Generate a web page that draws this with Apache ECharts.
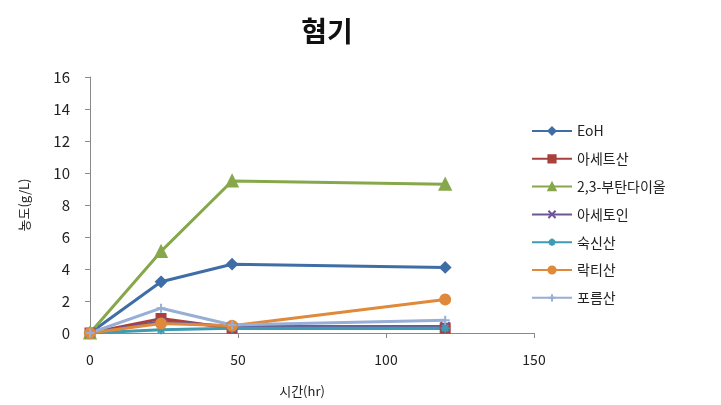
<!DOCTYPE html>
<html>
<head>
<meta charset="utf-8">
<script src="https://cdn.jsdelivr.net/npm/echarts@6/dist/echarts.min.js"></script>
<style>
  html, body { margin: 0; padding: 0; background: #fff; }
  #chart { width: 721px; height: 405px; }
</style>
</head>
<body>
<div id="chart"></div>
<script>
// Sampling times (hr)
const hours = [0, 24, 48, 120];

// Concentrations (g/L) per compound
const eoh = [0, 3.2, 4.3, 4.1];
const aceticAcid = [0, 0.9, 0.3, 0.3];
const butanediol = [0, 5.1, 9.5, 9.3];
const acetoin = [0, 0.7, 0.4, 0.4];
const succinicAcid = [0, 0.2, 0.3, 0.3];
const lacticAcid = [0, 0.6, 0.45, 2.1];
const formicAcid = [0, 1.55, 0.5, 0.8];

const seriesNames = ['EoH', '아세트산', '2,3-부탄다이올', '아세토인', '숙신산', '락티산', '포름산'];
const yTicks = [0, 2, 4, 6, 8, 10, 12, 14, 16];
const xTicks = [0, 50, 100, 150];

const font = '"Noto Sans CJK KR", "Noto Sans", sans-serif';

function pairs(values) {
  return hours.map((h, i) => [h, values[i]]);
}

const defs = [
  { name: seriesNames[0], data: eoh, color: '#3F6EA6', symbol: 'diamond', size: 10 },
  { name: seriesNames[1], data: aceticAcid, color: '#A9403D', symbol: 'rect', size: 9 },
  { name: seriesNames[2], data: butanediol, color: '#86A84B', symbol: 'triangle', size: 11 },
  { name: seriesNames[3], data: acetoin, color: '#6E5596', symbol: 'path://M0,0L10,10M10,0L0,10', size: 9 },
  { name: seriesNames[4], data: succinicAcid, color: '#3E9BB3', symbol: 'path://M0,5L10,5M5,0L5,10M1.5,1.5L8.5,8.5M8.5,1.5L1.5,8.5', size: 9 },
  { name: seriesNames[5], data: lacticAcid, color: '#E1893A', symbol: 'circle', size: 10 },
  { name: seriesNames[6], data: formicAcid, color: '#97AED6', symbol: 'path://M0,5L10,5M5,0L5,10', size: 9 }
];

const chart = echarts.init(document.getElementById('chart'), null, { renderer: 'canvas' });

chart.setOption({
  animation: false,
  backgroundColor: '#ffffff',
  title: {
    text: '혐기',
    left: 322,
    textAlign: 'center',
    top: 12,
    textStyle: { fontFamily: font, fontSize: 28, fontWeight: 'bold', color: '#111' }
  },
  grid: { left: 90, right: 187, top: 77, bottom: 72 },
  legend: {
    orient: 'vertical',
    left: 526,
    top: 119,
    itemWidth: 40,
    itemHeight: 9,
    itemGap: 13.8,
    data: seriesNames,
    textStyle: { fontFamily: font, fontSize: 14, color: '#222' }
  },
  xAxis: {
    type: 'value',
    min: 0,
    max: 150,
    interval: 50,
    name: '시간(hr)',
    nameLocation: 'middle',
    nameGap: 52,
    nameTextStyle: { fontFamily: font, fontSize: 13, color: '#222', padding: [0, 20, 0, 0] },
    axisLine: { show: true, lineStyle: { color: '#8a8a8a', width: 1 } },
    axisTick: { show: true, inside: false, length: 5, lineStyle: { color: '#8a8a8a' } },
    axisLabel: {
      fontFamily: font, fontSize: 14, color: '#222', margin: 20,
      formatter: v => (xTicks.includes(v) ? String(v) : '')
    },
    splitLine: { show: false }
  },
  yAxis: {
    type: 'value',
    min: 0,
    max: 16,
    interval: 2,
    name: '농도(g/L)',
    nameLocation: 'middle',
    nameGap: 59,
    nameRotate: 90,
    nameTextStyle: { fontFamily: font, fontSize: 13, color: '#222' },
    axisLine: { show: true, lineStyle: { color: '#8a8a8a', width: 1 } },
    axisTick: { show: true, inside: false, length: 5, lineStyle: { color: '#8a8a8a' } },
    axisLabel: {
      fontFamily: font, fontSize: 15, color: '#222', margin: 20,
      formatter: v => (yTicks.includes(v) ? String(v) : '')
    },
    splitLine: { show: false }
  },
  series: defs.map(d => ({
    name: d.name,
    type: 'line',
    data: pairs(d.data),
    symbol: d.symbol,
    symbolSize: d.size,
    showAllSymbol: true,
    itemStyle: { color: d.color, borderColor: d.color, borderWidth: 2 },
    lineStyle: { color: d.color, width: 3 },
    emphasis: { disabled: true }
  }))
});
</script>
</body>
</html>
